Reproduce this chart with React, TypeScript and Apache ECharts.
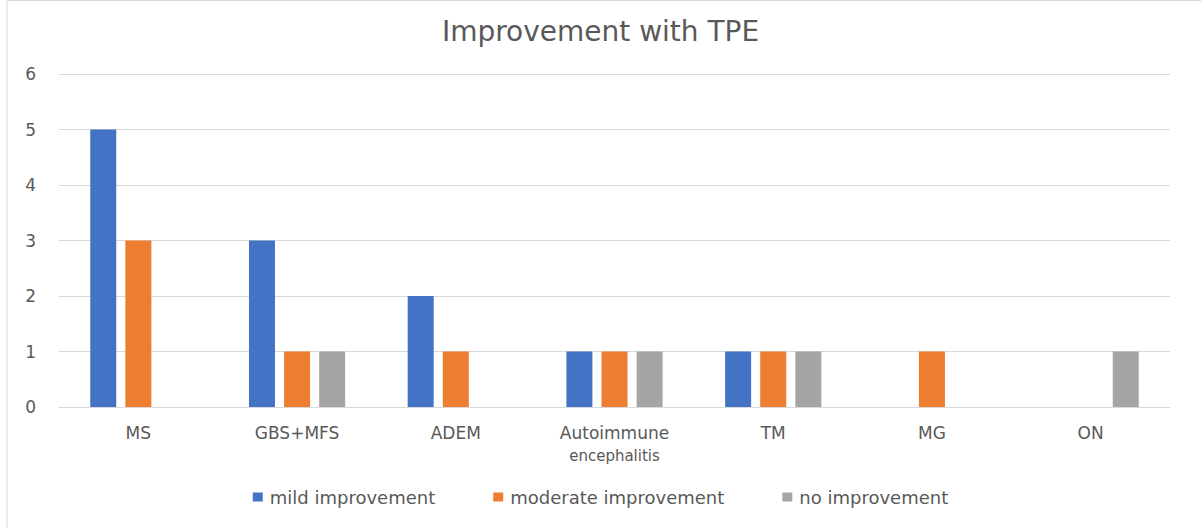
import React, { useEffect, useRef } from "react";
import * as echarts from "echarts";

const categories = ["MS", "GBS+MFS", "ADEM", "Autoimmune\nencephalitis", "TM", "MG", "ON"];
const mild = [5, 3, 2, 1, 1, 0, 0];
const moderate = [3, 1, 1, 1, 1, 1, 0];
const none = [0, 1, 0, 1, 1, 0, 1];
const seriesNames = ["mild improvement", "moderate improvement", "no improvement"];
const colors = ["#4472C4", "#ED7D31", "#A5A5A5"];
const yTicks = [0, 1, 2, 3, 4, 5, 6];

const FONT = "'DejaVu Sans', 'Open Sans', sans-serif";

export default function App() {
  const ref = useRef<HTMLDivElement>(null);
  useEffect(() => {
    document.body.style.margin = "0";
    const chart = echarts.init(ref.current!, null, { renderer: "svg" });
    const vals = [mild, moderate, none];
    chart.setOption({
      animation: false,
      backgroundColor: "#fff",
      textStyle: { fontFamily: FONT },
      title: {
        text: "Improvement with TPE",
        left: "center",
        top: 12,
        textStyle: { fontSize: 28, fontWeight: "normal", color: "#595959", fontFamily: FONT },
      },
      grid: { left: 59, right: 31, top: 74, bottom: 121, containLabel: false },
      legend: {
        top: 483,
        left: "center",
        itemWidth: 10,
        itemHeight: 9,
        itemGap: 58,
        icon: "rect",
        textStyle: { fontSize: 18, color: "#595959", fontFamily: FONT, padding: [0, 0, 0, 2] },
        data: seriesNames,
      },
      xAxis: {
        type: "category",
        data: categories,
        axisLine: { lineStyle: { color: "#D9D9D9", width: 1 } },
        axisTick: { show: false },
        axisLabel: {
          color: "#595959",
          fontSize: 17,
          margin: 16,
          interval: 0,
          lineHeight: 20,
          formatter: (v: string) => {
            const parts = v.split("\n");
            return parts.length > 1 ? parts[0] + "\n{s|" + parts[1] + "}" : v;
          },
          rich: { s: { fontSize: 15, color: "#595959", lineHeight: 26, fontFamily: FONT } },
        },
      },
      yAxis: {
        type: "value",
        min: yTicks[0],
        max: yTicks[yTicks.length - 1],
        interval: 1,
        axisLine: { show: false },
        axisTick: { show: false },
        splitLine: { lineStyle: { color: "#D9D9D9", width: 1 } },
        axisLabel: { color: "#595959", fontSize: 17, margin: 23, align: "right" },
      },
      series: seriesNames.map((n, i) => ({
        name: n,
        type: "bar",
        data: vals[i],
        barWidth: 26,
        barGap: "35%",
        itemStyle: { color: colors[i] },
      })),
      graphic: [
        { type: "line", shape: { x1: 7, y1: 0, x2: 7, y2: 528 }, style: { stroke: "#D9D9D9", lineWidth: 1 } },
        { type: "line", shape: { x1: 7, y1: 0.5, x2: 1201, y2: 0.5 }, style: { stroke: "#D9D9D9", lineWidth: 1 } },
      ],
    });
    return () => chart.dispose();
  }, []);
  return <div ref={ref} style={{ position: "absolute", left: 0, top: 0, width: 1201, height: 528 }} />;
}
